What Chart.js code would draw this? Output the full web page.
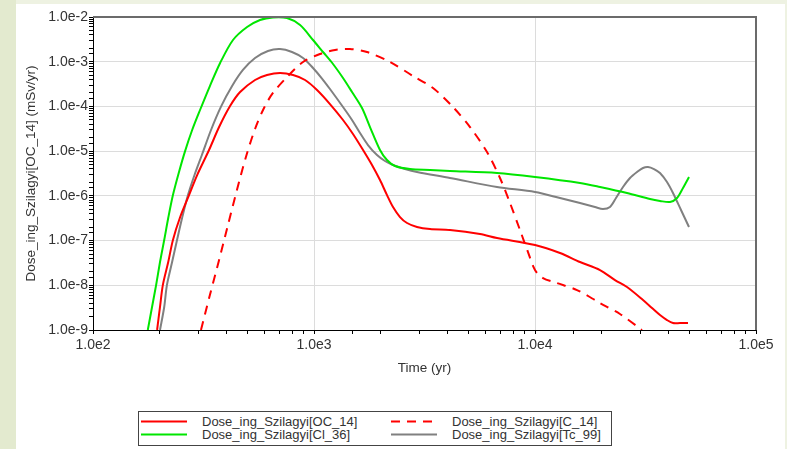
<!DOCTYPE html>
<html>
<head>
<meta charset="utf-8">
<script src="https://cdn.jsdelivr.net/npm/chart.js@4.4.0/dist/chart.umd.min.js"></script>
<style>
    html, body { margin: 0; padding: 0; }
    body {
        width: 787px; height: 449px; overflow: hidden; position: relative;
        background: #eef2e2;
        font-family: "Liberation Sans", Arial, sans-serif;
    }
    .strip { position: absolute; left: 0; top: 0; width: 16px; height: 449px; background: #e3eacf; }
    .panel { position: absolute; left: 16px; top: 4px; width: 769px; height: 445px; background: #fff; }
    #chartBox { position: absolute; left: 0; top: 0; width: 769px; height: 376px; }
    .legend {
        position: absolute; left: 122px; top: 407px; width: 472px; height: 33px;
        border: 1px solid #444; background: #fff;
    }
    .legend-item { position: absolute; height: 13px; font-size: 13px; color: #333; line-height: 13px; white-space: nowrap; }
    .legend-item svg { position: absolute; left: 0; top: 0; }
    .legend-item span { position: absolute; top: 0; }
</style>
</head>
<body>
<div class="strip"></div>
<div class="panel">
    <div id="chartBox"><canvas id="doseChart"></canvas></div>
    <div class="legend" id="legend"></div>
</div>

<script>
// Данные кривых доз (время, лет / доза, мЗв/год)
const oc14Time = [195, 201, 207, 219, 230, 248, 272, 296, 335, 372, 417, 463, 541, 613, 702, 804, 911, 1032, 1181, 1353, 1501, 1667, 1830, 1989, 2140, 2278, 2450, 2636, 2925, 3349, 4124, 5638, 6731, 10000, 12976, 15982, 19683, 23014, 26078, 30810, 33838, 36777, 39560, 42110, 45302, 49240];
const oc14Dose = [1e-9, 3.27e-9, 1.01e-8, 3.31e-8, 1.03e-7, 3.36e-7, 1.04e-6, 2.92e-6, 1.06e-5, 3.46e-5, 1.02e-4, 2.1e-4, 3.9e-4, 5.04e-4, 5.59e-4, 5.04e-4, 3.9e-4, 2.33e-4, 1.13e-4, 4.97e-5, 2.42e-5, 1.06e-5, 4.9e-6, 2.26e-6, 1.04e-6, 5.63e-7, 3.36e-7, 2.47e-7, 2.01e-7, 1.81e-7, 1.72e-7, 1.4e-7, 1.14e-7, 7.95e-8, 5.27e-8, 3.31e-8, 2.19e-8, 1.31e-8, 9.14e-9, 4.68e-9, 3.1e-9, 2.16e-9, 1.67e-9, 1.43e-9, 1.43e-9, 1.43e-9];

const c14Time = [308, 338, 372, 408, 448, 492, 541, 594, 652, 755, 892, 1064, 1245, 1455, 1737, 2208, 2805, 3455, 4256, 5081, 6065, 6943, 7707, 8552, 9296, 10000, 10870, 12580, 15488, 19683, 24240, 30490];
const c14Dose = [1e-9, 6.05e-9, 3.67e-8, 2.23e-7, 1.35e-6, 7.39e-6, 3.13e-5, 9.22e-5, 2.0e-4, 4.55e-4, 9.85e-4, 1.49e-3, 1.83e-3, 1.92e-3, 1.65e-3, 9.85e-4, 4.79e-4, 2.58e-4, 9.7e-5, 3.46e-5, 9.56e-6, 2.51e-6, 6.92e-7, 1.72e-7, 5.54e-8, 2.19e-8, 1.45e-8, 1.12e-8, 7.83e-9, 4.01e-9, 2.28e-9, 1e-9];

const cl36Time = [177, 185, 193, 201, 210, 219, 230, 245, 261, 281, 305, 338, 376, 430, 498, 570, 652, 755, 865, 990, 1098, 1219, 1353, 1486, 1649, 1792, 1989, 2139, 2326, 2719, 3349, 4124, 6730, 10000, 15982, 19683, 26078, 33141, 36777, 40822, 43908, 46742, 49750];
const cl36Dose = [1e-9, 3.27e-9, 1.01e-8, 3.31e-8, 1.03e-7, 3.19e-7, 1.04e-6, 3.41e-6, 1.0e-5, 2.97e-5, 8.32e-5, 2.86e-4, 9.36e-4, 3.06e-3, 5.97e-3, 8.57e-3, 9.8e-3, 9.5e-3, 6.62e-3, 3.06e-3, 1.65e-3, 8.89e-4, 4.32e-4, 2.1e-4, 9.2e-5, 3.46e-5, 1.06e-5, 6.33e-6, 4.65e-6, 3.98e-6, 3.78e-6, 3.6e-6, 3.24e-6, 2.64e-6, 1.94e-6, 1.58e-6, 1.16e-6, 8.5e-7, 7.7e-7, 7.28e-7, 8.95e-7, 1.5e-6, 2.64e-6];

const tc99Time = [201, 210, 216, 228, 240, 253, 269, 289, 311, 342, 380, 426, 477, 541, 619, 702, 795, 892, 990, 1087, 1181, 1353, 1486, 1615, 1755, 1928, 2095, 2277, 2581, 2925, 4124, 6730, 10000, 12976, 15982, 18681, 20305, 21845, 23253, 25016, 26904, 28944, 30810, 32457, 34553, 36777, 39560, 42110, 45780, 49750];
const tc99Dose = [1e-9, 3.27e-9, 1.01e-8, 3.31e-8, 1.03e-7, 3.19e-7, 1.04e-6, 3.08e-6, 8.19e-6, 2.97e-5, 1.0e-4, 2.86e-4, 6.53e-4, 1.21e-3, 1.74e-3, 1.92e-3, 1.65e-3, 1.21e-3, 7.23e-4, 4.2e-4, 2.45e-4, 9.7e-5, 4.97e-5, 2.54e-5, 1.37e-5, 8.19e-6, 6.02e-6, 4.9e-6, 3.98e-6, 3.41e-6, 2.51e-6, 1.58e-6, 1.22e-6, 8.95e-7, 6.92e-7, 5.63e-7, 5.08e-7, 5.63e-7, 8.95e-7, 1.58e-6, 2.51e-6, 3.41e-6, 4.2e-6, 4.42e-6, 3.98e-6, 3.24e-6, 2.04e-6, 1.16e-6, 4.82e-7, 2.01e-7];

const seriesLabels = ['Dose_ing_Szilagyi[OC_14]', 'Dose_ing_Szilagyi[C_14]', 'Dose_ing_Szilagyi[Cl_36]', 'Dose_ing_Szilagyi[Tc_99]'];
const seriesColors = ['#ff0000', '#ff0000', '#00e600', '#808080'];

// Пары x/y для линий
function toPoints(times, doses) {
    return times.map(function(t, i) { return { x: t, y: doses[i] }; });
}

function isDecade(value) {
    const l = Math.log10(value);
    return Math.abs(l - Math.round(l)) < 1e-6;
}

function decadeLabel(value) {
    if (!isDecade(value)) return '';
    return '1.0e' + Math.round(Math.log10(value));
}

// Рамка сверху и справа
const framePlugin = {
    id: 'frame',
    afterDraw: function(chart) {
        const a = chart.chartArea;
        const ctx = chart.ctx;
        ctx.save();
        ctx.strokeStyle = '#6b6b6b';
        ctx.lineWidth = 2;
        ctx.beginPath();
        ctx.moveTo(a.left, a.top);
        ctx.lineTo(a.right, a.top);
        ctx.lineTo(a.right, a.bottom);
        ctx.stroke();
        ctx.restore();
    }
};

const tickFont = { family: '"Liberation Sans", Arial, sans-serif', size: 14 };
const titleFont = { family: '"Liberation Sans", Arial, sans-serif', size: 13.5 };

function gridOptions() {
    return {
        color: function(c) { return c.tick && isDecade(c.tick.value) ? '#dcdcdc' : 'rgba(0,0,0,0)'; },
        tickColor: '#000',
        tickLength: 4,
        lineWidth: 1
    };
}

function initChart() {
    const ctx = document.getElementById('doseChart');
    const dataSets = [
        toPoints(oc14Time, oc14Dose),
        toPoints(c14Time, c14Dose),
        toPoints(cl36Time, cl36Dose),
        toPoints(tc99Time, tc99Dose)
    ];

    new Chart(ctx, {
        type: 'line',
        data: {
            datasets: dataSets.map(function(pts, i) {
                return {
                    label: seriesLabels[i],
                    data: pts,
                    borderColor: seriesColors[i],
                    borderWidth: 2,
                    borderDash: i === 1 ? [9, 7] : [],
                    pointRadius: 0,
                    fill: false,
                    tension: 0.3
                };
            })
        },
        options: {
            responsive: true,
            maintainAspectRatio: false,
            animation: false,
            layout: { padding: { top: 13, right: 29, bottom: 0, left: 0 } },
            plugins: {
                legend: { display: false },
                tooltip: { enabled: false }
            },
            scales: {
                x: {
                    type: 'logarithmic',
                    min: 100,
                    max: 100000,
                    afterFit: function(scale) { scale.height = 50; },
                    border: { color: '#000', width: 1 },
                    grid: gridOptions(),
                    ticks: {
                        autoSkip: false,
                        maxRotation: 0,
                        padding: 3,
                        color: '#333',
                        font: tickFont,
                        callback: function(value) { return decadeLabel(value); }
                    },
                    title: {
                        display: true,
                        text: 'Time (yr)',
                        color: '#333',
                        font: titleFont,
                        padding: { top: 4, bottom: 4 }
                    }
                },
                y: {
                    type: 'logarithmic',
                    min: 1e-9,
                    max: 1e-2,
                    afterFit: function(scale) { scale.width = 77; },
                    border: { color: '#000', width: 1 },
                    grid: gridOptions(),
                    ticks: {
                        autoSkip: false,
                        padding: 1,
                        color: '#333',
                        font: tickFont,
                        callback: function(value) { return decadeLabel(value); }
                    },
                    title: {
                        display: true,
                        text: 'Dose_ing_Szilagyi[OC_14] (mSv/yr)',
                        color: '#333',
                        font: titleFont,
                        padding: { top: 7, bottom: 4 }
                    }
                }
            }
        },
        plugins: [framePlugin]
    });
}

// Легенда в рамке, две колонки
function buildLegend() {
    const box = document.getElementById('legend');
    const spots = [
        { left: 2, top: 3, textLeft: 61 },
        { left: 252, top: 3, textLeft: 61 },
        { left: 2, top: 16, textLeft: 61 },
        { left: 252, top: 16, textLeft: 61 }
    ];
    seriesLabels.forEach(function(label, i) {
        const item = document.createElement('div');
        item.className = 'legend-item';
        item.style.left = spots[i].left + 'px';
        item.style.top = spots[i].top + 'px';
        const dash = i === 1 ? ' stroke-dasharray="9 7"' : '';
        item.innerHTML = '<svg width="46" height="13"><line x1="0" y1="6.5" x2="46" y2="6.5" stroke="' +
            seriesColors[i] + '" stroke-width="2"' + dash + '/></svg>' +
            '<span style="left:' + spots[i].textLeft + 'px">' + label + '</span>';
        box.appendChild(item);
    });
}

document.addEventListener('DOMContentLoaded', function() {
    initChart();
    buildLegend();
});
</script>
</body>
</html>
